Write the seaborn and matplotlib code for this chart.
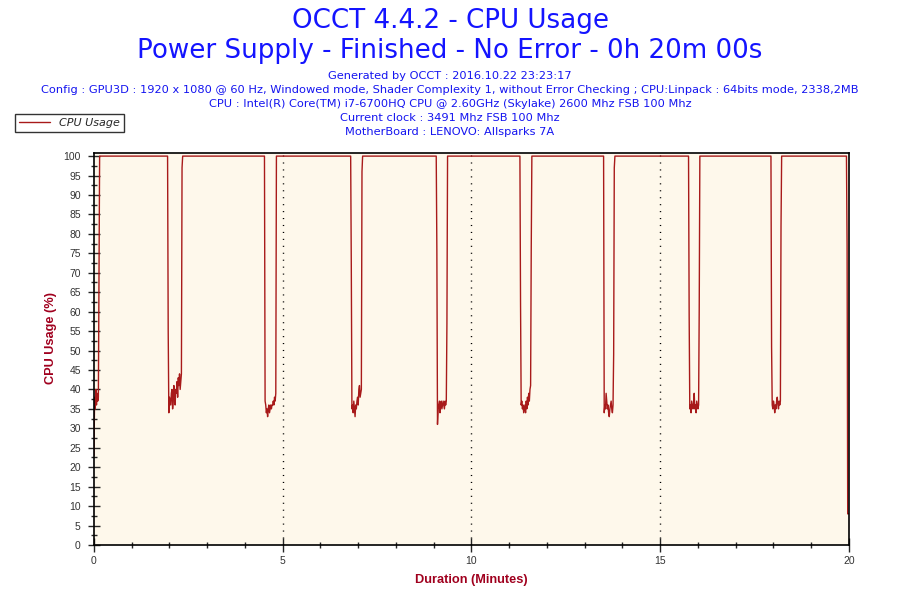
import numpy as np
import pandas as pd
import matplotlib
matplotlib.use("Agg")
import matplotlib.pyplot as plt
import seaborn as sns

# CPU usage log, 1 sample per second, 100 % between the dips
dip_starts = [0, 117, 271, 408, 544, 677, 810, 945, 1076, 1196]   # seconds
dip_values = [
    [23, 38, 35, 40, 36, 39, 37, 38, 72],
    [100, 55, 34, 38, 37, 36, 39, 40, 35, 37, 41, 38, 36, 40, 39, 42, 38, 43, 41, 44, 40, 42, 44, 97],
    [100, 37, 36, 34, 35, 33, 35, 36, 34, 35, 36, 35, 36, 36, 37, 36, 38, 37, 39],
    [100, 72, 35, 36, 34, 37, 35, 33, 36, 35, 37, 38, 36, 40, 41, 38, 39, 40, 96],
    [100, 76, 31, 35, 36, 37, 34, 36, 37, 35, 36, 37, 36, 35, 37, 36, 37, 57],
    [100, 62, 36, 37, 35, 36, 34, 35, 36, 34, 37, 35, 38, 36, 39, 37, 40, 41, 76],
    [100, 34, 36, 35, 39, 37, 35, 36, 34, 33, 35, 36, 37, 35, 34, 36, 49, 97],
    [100, 59, 35, 36, 34, 37, 36, 35, 36, 39, 35, 36, 34, 37, 36, 35, 36, 61],
    [100, 51, 36, 35, 37, 36, 34, 36, 35, 37, 38, 36, 35, 37, 36, 37, 82],
    [100, 77, 8, 8],
]
total_seconds = 1200

seconds = []
usage = []
for start, vals in zip(dip_starts, dip_values):
    seconds.extend(range(start, start + len(vals)))
    usage.extend(vals)
    if start + len(vals) < total_seconds:
        # back to full load until the next dip
        seconds.append(start + len(vals))
        usage.append(100)

data = pd.DataFrame({"Duration": np.array(seconds) / 60.0, "CPU Usage": usage})

header = [
    "Generated by OCCT : 2016.10.22 23:23:17",
    "Config : GPU3D : 1920 x 1080 @ 60 Hz, Windowed mode, Shader Complexity 1, without Error Checking ; CPU:Linpack : 64bits mode, 2338,2MB",
    "CPU : Intel(R) Core(TM) i7-6700HQ CPU @ 2.60GHz (Skylake) 2600 Mhz FSB 100 Mhz",
    "Current clock : 3491 Mhz FSB 100 Mhz",
    "MotherBoard : LENOVO: Allsparks 7A",
]

sns.set_style("ticks")
plt.rcParams["font.family"] = ["DejaVu Sans"]

fig = plt.figure(figsize=(9, 6), dpi=100)
ax = fig.add_axes([0.1044, 0.0917, 0.8389, 0.6533])
ax.set_facecolor("#FEF8EB")

sns.lineplot(data=data, x="Duration", y="CPU Usage", ax=ax, color="#A81A1A",
             linewidth=1.0, label="CPU Usage", legend=False, estimator=None)

ax.set_xlim(0, 20)
ax.set_ylim(0, 100.8)
ax.set_xticks([0, 5, 10, 15, 20])
ax.set_xticks(np.arange(0, 21, 1), minor=True)
ax.set_yticks(np.arange(0, 101, 5))
ax.set_yticks(np.arange(2.5, 100, 5), minor=True)
ax.tick_params(axis="both", which="major", direction="inout", length=8, width=1,
               labelsize=7.5, labelcolor="#333333")
ax.tick_params(axis="both", which="minor", direction="inout", length=5, width=1)
ax.tick_params(axis="x", which="major", length=10, pad=3)
ax.tick_params(axis="y", which="major", pad=5.5)
for lbl in ax.get_xticklabels() + ax.get_yticklabels():
    lbl.set_family("Liberation Sans")

for s in ax.spines.values():
    s.set_color("black")
    s.set_linewidth(1.2)

for xv in [5, 10, 15]:
    ax.axvline(xv, color="black", linewidth=1, linestyle=(0, (0.8, 4.2)), zorder=1)

ax.set_xlabel("Duration (Minutes)", color="#A0001E", fontsize=9.2, fontweight="bold",
              family="Liberation Sans")
ax.set_ylabel("CPU Usage (%)", color="#A0001E", fontsize=9.2, fontweight="bold",
              family="Liberation Sans")
ax.xaxis.set_label_coords(0.5, -(574 - 545) / 392)
ax.yaxis.set_label_coords((57 - 94) / 755, (545 - 338) / 392)

# titles
fig.text(0.5, 0.965, "OCCT 4.4.2 - CPU Usage", ha="center", va="center",
         color="#1414FF", fontsize=18.8)
fig.text(0.5, 0.915, "Power Supply - Finished - No Error - 0h 20m 00s", ha="center",
         va="center", color="#1414FF", fontsize=18.8)
for i, line in enumerate(header):
    fig.text(0.5, 1 - (76 + i * 14) / 600, line, ha="center", va="center",
             color="#1414F0", fontsize=8.2)

leg = fig.legend(handles=ax.get_lines()[:1], labels=["CPU Usage"],
                 loc="upper left", bbox_to_anchor=(15 / 900, 1 - 114 / 600),
                 frameon=True, fancybox=False, edgecolor="black", fontsize=8,
                 handlelength=2.8, borderpad=0.35, borderaxespad=0)
leg.get_frame().set_linewidth(1)
for t in leg.get_texts():
    t.set_fontstyle("italic")

plt.savefig("out.png", dpi=100, facecolor="white")
